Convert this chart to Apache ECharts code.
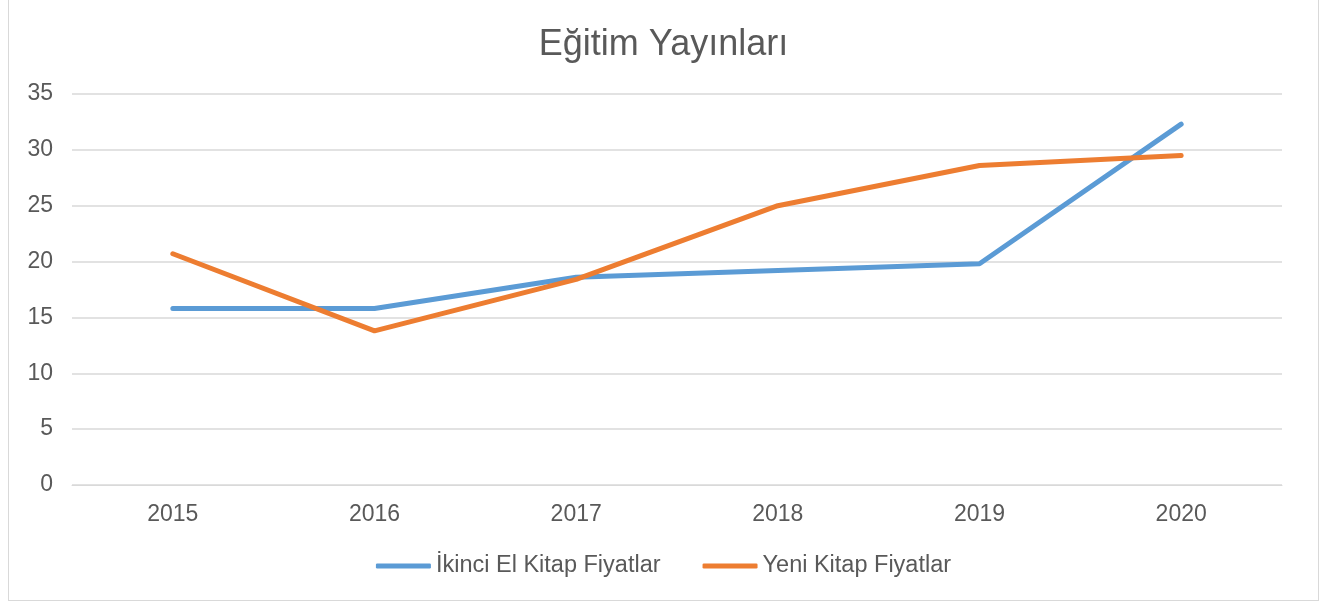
<!DOCTYPE html>
<html>
<head>
<meta charset="utf-8">
<script src="https://cdn.jsdelivr.net/npm/echarts@6/dist/echarts.min.js"></script>
<style>
  html, body { margin: 0; padding: 0; background: #fff; }
  #frame { position: absolute; left: 8px; top: -1px; width: 1311px; height: 602px; border: 1px solid #d9d9d9; box-sizing: border-box; }
  #chart { position: absolute; left: 0; top: 0; width: 1327px; height: 602px; }
</style>
</head>
<body>
<div id="frame"></div>
<div id="chart"></div>
<script>
var years = ['2015', '2016', '2017', '2018', '2019', '2020'];
var ikinciEl = [15.8, 15.8, 18.6, 19.2, 19.8, 32.3];
var yeniKitap = [20.7, 13.8, 18.4, 25.0, 28.6, 29.5];

var chart = echarts.init(document.getElementById('chart'));
var font = '"Liberation Sans", Arial, sans-serif';
chart.setOption({
    animation: false,
    title: {
        text: 'Eğitim Yayınları',
        left: 'center',
        top: 22,
        textStyle: { fontFamily: font, fontSize: 36, fontWeight: 'normal', color: '#595959' }
    },
    legend: {
        bottom: 19,
        left: 'center',
        itemWidth: 55,
        itemHeight: 5,
        itemGap: 42,
        icon: 'roundRect',
        textStyle: { fontFamily: font, fontSize: 23.5, color: '#595959' },
        data: ['İkinci El Kitap Fiyatlar', 'Yeni Kitap Fiyatlar']
    },
    grid: { left: 72, right: 45, top: 94, bottom: 117 },
    xAxis: {
        type: 'category',
        data: years,
        boundaryGap: true,
        axisLine: { show: true, lineStyle: { color: '#d9d9d9', width: 1 } },
        axisTick: { show: false },
        axisLabel: { fontFamily: font, fontSize: 23, color: '#595959', margin: 18 }
    },
    yAxis: {
        type: 'value',
        min: 0,
        max: 35,
        interval: 5,
        axisLine: { show: false },
        axisTick: { show: false },
        splitLine: { lineStyle: { color: '#d9d9d9', width: 1.5 } },
        axisLabel: { fontFamily: font, fontSize: 23, color: '#595959', margin: 19, verticalAlign: 'middle', padding: [3, 0, 0, 0] }
    },
    series: [
        {
            name: 'İkinci El Kitap Fiyatlar',
            type: 'line',
            data: ikinciEl,
            symbol: 'none',
            itemStyle: { color: '#5b9bd5' },
            lineStyle: { color: '#5b9bd5', width: 5, cap: 'round', join: 'round' }
        },
        {
            name: 'Yeni Kitap Fiyatlar',
            type: 'line',
            data: yeniKitap,
            symbol: 'none',
            itemStyle: { color: '#ed7d31' },
            lineStyle: { color: '#ed7d31', width: 5, cap: 'round', join: 'round' }
        }
    ]
});
</script>
</body>
</html>
